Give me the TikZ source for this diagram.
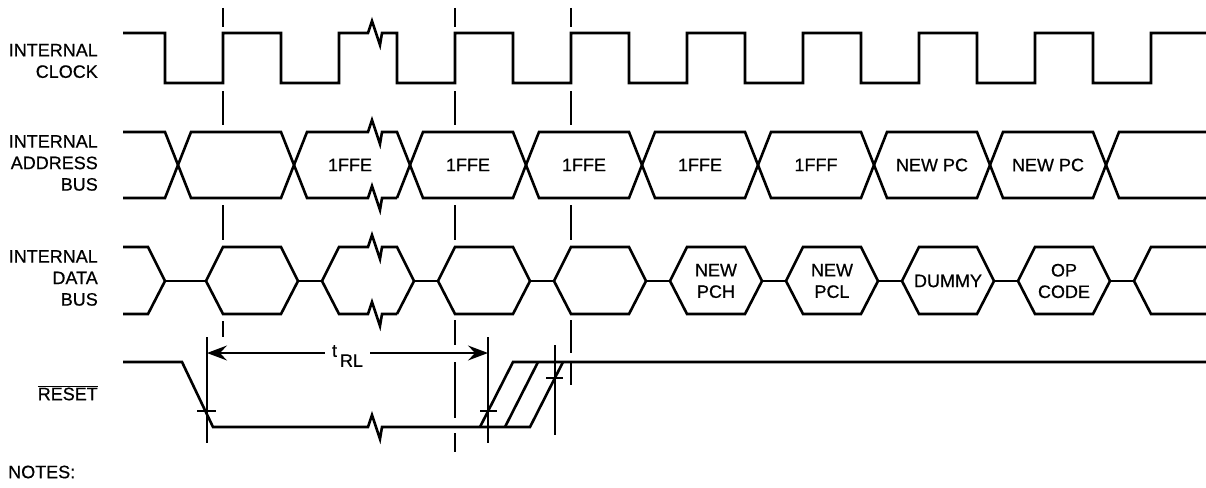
\documentclass[tikz,border=0pt]{standalone}
\usepackage{fontspec}
\setmainfont{Liberation Sans}
\newfontfamily\sigfont{Liberation Sans}[FakeBold=0.6]
\usetikzlibrary{arrows.meta}
% break mark on a signal line
\newcommand{\brk}[2]{-- (#1,#2) -- ++(4,-12) -- ++(8,24) -- ++(2,-12)}

\begin{document}
\begin{tikzpicture}[x=1pt,y=-1pt,>={Stealth[length=20pt,width=15pt,inset=7pt]},
  sig/.style={line width=2.6pt},
  guide/.style={line width=1.4pt},
  lbl/.style={font=\sigfont\fontsize{18}{21.5}\selectfont,inner sep=0pt}]
  \useasboundingbox (0,0) rectangle (1206,487);

  %-------------------- labels --------------------
  \node[lbl,align=right,anchor=east] (clkname)  at (98,61)  {INTERNAL\\CLOCK};
  \node[lbl,align=right,anchor=east] (addrname) at (98,163) {INTERNAL\\ADDRESS\\BUS};
  \node[lbl,align=right,anchor=east] (dataname) at (98,278) {INTERNAL\\DATA\\BUS};
  \node[lbl,anchor=east] (rstname) at (98,393) {$\overline{\mbox{RESET}}$};
  \node[lbl,anchor=west] (notes) at (8,472) {NOTES:};

  %-------------------- clock --------------------
  \draw[sig] (123,33)
    \foreach \x in {165,281}{ -- (\x,33) -- (\x,83) -- ({\x+58},83) -- ({\x+58},33)}
    \brk{368}{33}
    \foreach \x in {397,513,...,1093}{ -- (\x,33) -- (\x,83) -- ({\x+58},83) -- ({\x+58},33)}
    -- (1206,33);

  % guide lines
  \foreach \x in {223,455,571}{
    \draw[guide] (\x,8) -- (\x,27) (\x,91) -- (\x,125) (\x,205) -- (\x,240);
  }
  \draw[guide] (223,321) -- (223,337);
  \draw[guide] (455,320) -- (455,345) (455,362) -- (455,418) (455,433) -- (455,452);
  \draw[guide] (571,320) -- (571,353) (571,362) -- (571,385);

  %-------------------- address bus --------------------
  \draw[sig] (123,132) -- (165,132) -- (178,165) -- (165,198) -- (123,198);
  \foreach \c in {178,410,526,642,758,874,990}{
    \draw[sig] (\c,165) -- ({\c+13},132) -- ({\c+103},132) -- ({\c+116},165)
      -- ({\c+103},198) -- ({\c+13},198) -- cycle;
  }
  \draw[sig] (294,165) -- (307,132) \brk{368}{132} -- (397,132) -- (410,165) -- (397,198);
  \draw[sig] (294,165) -- (307,198) \brk{368}{198} -- (397,198);
  \draw[sig] (1206,132) -- (1119,132) -- (1106,165) -- (1119,198) -- (1206,198);

  \node[lbl] (addr1) at (350,165) {1FFE};
  \foreach \x/\t [count=\i from 2] in {468/1FFE,584/1FFE,700/1FFE,816/1FFF,932/NEW PC,1048/NEW PC}{
    \node[lbl] (addr\i) at (\x,165) {\t};
  }

  %-------------------- data bus --------------------
  \draw[sig] (123,247) -- (148,247) -- (165,281) -- (148,314) -- (123,314);
  \draw[sig] (165,281) -- (206,281);
  \foreach \r in {223,455,571,687,803,919,1035}{
    \draw[sig] ({\r-17},281) -- (\r,247) -- ({\r+58},247) -- ({\r+75},281)
      -- ({\r+58},314) -- (\r,314) -- cycle;
    \draw[sig] ({\r+75},281) -- ({\r+99},281);
  }
  \draw[sig] (322,281) -- (339,247) \brk{368}{247} -- (397,247) -- (414,281) -- (397,314);
  \draw[sig] (322,281) -- (339,314) \brk{368}{314} -- (397,314);
  \draw[sig] (414,281) -- (438,281);
  \draw[sig] (1206,247) -- (1151,247) -- (1134,281) -- (1151,314) -- (1206,314);

  \foreach \x/\t [count=\i] in {716/NEW\\PCH,832/NEW\\PCL,948/DUMMY,1064/OP\\CODE}{
    \node[lbl,align=center] (data\i) at (\x,281) {\t};
  }

  %-------------------- reset --------------------
  \draw[sig] (123,362) -- (182,362) -- (213,427) \brk{368}{427} -- (530,427) -- (563,362);
  \draw[sig] (480,427) -- (513,362) -- (1206,362);
  \draw[sig] (505,427) -- (538,362);

  % timing marks
  \draw[guide] (207,337) -- (207,443) (197,411) -- (216,411);
  \draw[guide] (488,337) -- (488,443) (480,411) -- (497,411);
  \draw[guide] (555,345) -- (555,435) (546,378) -- (563,378);

  \coordinate (rl-l) at (207,353);
  \coordinate (rl-r) at (488,353);
  \draw[guide,<->] (rl-l) -- (rl-r)
    node[lbl,midway,fill=white,inner xsep=7pt,inner ysep=2pt,yshift=-3pt] (trl)
    {t\,\raisebox{-10pt}{RL}};

\end{tikzpicture}
\end{document}
